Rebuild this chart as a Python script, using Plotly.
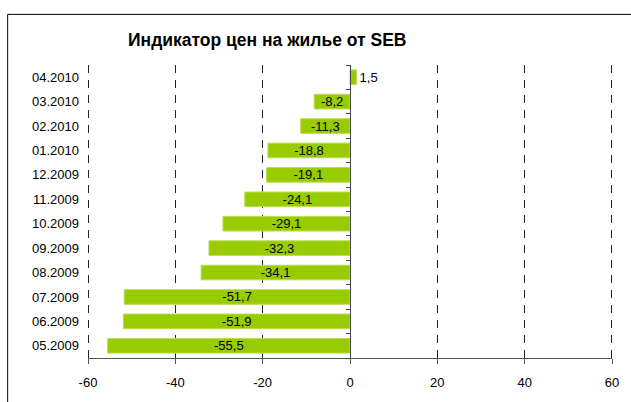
import plotly.graph_objects as go

months = ["05.2009", "06.2009", "07.2009", "08.2009", "09.2009", "10.2009",
          "11.2009", "12.2009", "01.2010", "02.2010", "03.2010", "04.2010"]
values = [-55.5, -51.9, -51.7, -34.1, -32.3, -29.1, -24.1, -19.1, -18.8, -11.3, -8.2, 1.5]
x_ticks = [-60, -40, -20, 0, 20, 40, 60]
title_text = "Индикатор цен на жилье от SEB"

labels = [f"{v:.1f}".replace(".", ",") for v in values]
positions = ["outside" if v > 0 else "inside" for v in values]

W, H = 631, 402
L, R, T, B = 88, 18, 65, 39
pw = W - L - R
ph = H - T - B

fig = go.Figure()
fig.add_trace(go.Bar(
    x=values, y=months, orientation="h",
    marker=dict(color="#99CC00", line=dict(color="#B8DD55", width=1)),
    width=0.6,
    text=labels, textposition=positions, insidetextanchor="middle",
    constraintext="none", cliponaxis=False,
    textfont=dict(family="Liberation Sans, Arial", size=13, color="#000000"),
    hoverinfo="skip",
))
fig.add_trace(go.Scatter(x=[None], y=[None], yaxis="y2", showlegend=False, hoverinfo="skip"))

font = dict(family="Liberation Sans, Arial", size=13, color="#000000")
grid_line = dict(color="#222222", width=1, dash="8px,7px")
bx = (7.5 - L) / pw
by = (H - B - 13.5) / ph
half_px = 0.5 * (x_ticks[-1] - x_ticks[0]) / pw
shapes = [
    dict(type="line", xref="paper", yref="paper", x0=bx, x1=bx, y0=-0.2, y1=by,
         line=dict(color="#000000", width=1)),
    dict(type="line", xref="paper", yref="paper", x0=bx, x1=1.1, y0=by, y1=by,
         line=dict(color="#000000", width=1)),
]
for xv, nudge in ((x_ticks[0], half_px), (x_ticks[-1], -half_px)):
    shapes.append(dict(type="line", xref="x", yref="paper", x0=xv + nudge, x1=xv + nudge,
                       y0=1, y1=0, line=grid_line, layer="above"))

fig.update_layout(
    width=W, height=H,
    margin=dict(l=L, r=R, t=T, b=B),
    paper_bgcolor="white", plot_bgcolor="white",
    showlegend=False,
    xaxis=dict(range=[-60, 60], tickvals=x_ticks, ticktext=[str(t) for t in x_ticks],
               showgrid=True, gridcolor="#222222", gridwidth=1, griddash="8px,7px",
               zeroline=False, showline=True, linecolor="#555555", linewidth=1,
               ticks="outside", ticklen=5, tickcolor="#555555",
               tickfont=font, ticklabelstandoff=7, fixedrange=True),
    yaxis=dict(categoryorder="array", categoryarray=months, range=[-0.5, 11.5],
               showgrid=False, zeroline=False, showline=False, ticks="",
               tickfont=font, ticklabelstandoff=8, fixedrange=True),
    yaxis2=dict(overlaying="y", anchor="free", position=0.5, side="left",
                range=[-0.5, 11.5], tickvals=[i - 0.5 for i in range(13)],
                showticklabels=False, showgrid=False, zeroline=False,
                showline=True, linecolor="#444444", linewidth=1,
                ticks="outside", ticklen=4, tickcolor="#444444", fixedrange=True),
    annotations=[dict(text=f"<b>{title_text}</b>", xref="paper", yref="paper",
                      x=(267.5 - L) / pw, y=(H - B - 40) / ph, xanchor="center", yanchor="middle",
                      showarrow=False,
                      font=dict(family="Liberation Sans, Arial", size=17.5, color="#000000"))],
    shapes=shapes,
)

fig.write_html("out.html", config={"displayModeBar": False},
               post_script="document.body.style.margin='0';document.body.style.padding='0';")
